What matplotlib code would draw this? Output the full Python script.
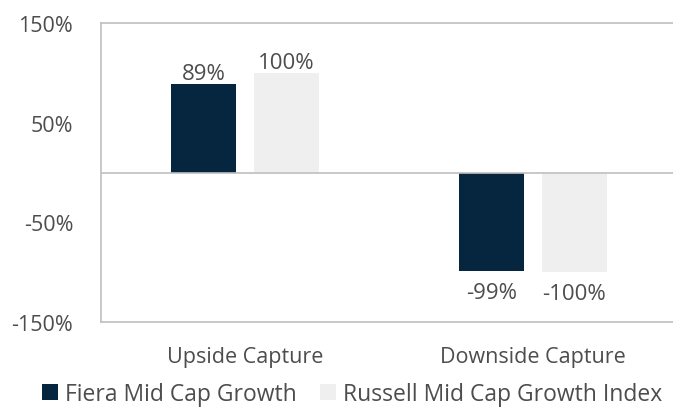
import numpy as np
import matplotlib.pyplot as plt

categories = ["Upside Capture", "Downside Capture"]
series_names = ["Fiera Mid Cap Growth", "Russell Mid Cap Growth Index"]
fiera = [89, -99]
russell = [100, -100]
colors = ["#06263F", "#EFEFEF"]
text_color = "#4D4D4D"
grid_color = "#BFBFBF"

plt.rcParams['font.family'] = ['Open Sans', 'DejaVu Sans']

fig = plt.figure(figsize=(6.73, 4.10), dpi=100)
# axes run past the right edge of the figure, as in the original
ax = fig.add_axes([101 / 673, 1 - 323 / 410, 576 / 673, 299 / 410])

x = np.arange(len(categories))
w = 0.223
off = 0.144
b1 = ax.bar(x - off, fiera, w, color=colors[0], label=series_names[0])
b2 = ax.bar(x + off, russell, w, color=colors[1], label=series_names[1])

for bars, vals in ((b1, fiera), (b2, russell)):
    for rect, v in zip(bars, vals):
        cx = rect.get_x() + rect.get_width() / 2
        if v >= 0:
            ax.annotate(f"{v}%", (cx, v), xytext=(0, 0), textcoords="offset points",
                        ha="center", va="bottom", fontsize=16, color=text_color)
        else:
            ax.annotate(f"{v}%", (cx, v), xytext=(0, -8), textcoords="offset points",
                        ha="center", va="top", fontsize=16, color=text_color)

ax.axhline(0, color=grid_color, lw=1.2)
ax.set_xlim(-0.5, 1.5)
ax.set_ylim(-150, 150)
ax.set_yticks([-150, -50, 50, 150])
ax.set_yticklabels(["-150%", "-50%", "50%", "150%"])
ax.set_xticks(x)
ax.set_xticklabels(categories)
ax.tick_params(axis="both", length=0, labelsize=15.5, colors=text_color)
ax.tick_params(axis="y", pad=20)
ax.tick_params(axis="x", pad=17)
for s in ax.spines.values():
    s.set_color(grid_color)
    s.set_linewidth(1.2)

fig.legend(handles=[b1, b2], loc="center", bbox_to_anchor=(352 / 673, 1 - 395 / 410),
           ncol=2, frameon=False, fontsize=16.5, handlelength=0.7, handleheight=0.7,
           handletextpad=0.3, columnspacing=1.0, labelcolor=text_color,
           borderpad=0.1)

fig.savefig("out.png", dpi=100)
